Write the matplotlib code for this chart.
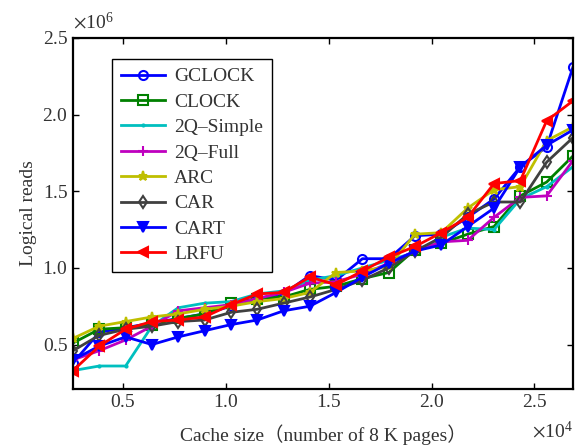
import numpy as np
import matplotlib
matplotlib.use('Agg')
import matplotlib.pyplot as plt
import matplotlib.transforms as mtransforms

plt.rcParams['font.family'] = ['Liberation Serif', 'Noto Sans CJK SC', 'DejaVu Sans']
plt.rcParams['mathtext.fontset'] = 'stix'

# cache sizes (pages)
cache_size = [2560, 3840, 5120, 6400, 7680, 8960, 10240, 11520, 12800, 14080,
              15360, 16640, 17920, 19200, 20480, 21760, 23040, 24320, 25600, 26880]

# logical reads (x 1e6)
gclock = [0.38, 0.58, 0.61, 0.64, 0.67, 0.70, 0.75, 0.80, 0.83, 0.95,
          0.92, 1.06, 1.06, 1.21, 1.22, 1.33, 1.45, 1.66, 1.79, 2.31]
clock = [0.51, 0.60, 0.61, 0.63, 0.67, 0.70, 0.77, 0.80, 0.81, 0.86,
         0.88, 0.93, 0.97, 1.12, 1.16, 1.22, 1.27, 1.47, 1.56, 1.73]
q2_simple = [0.33, 0.36, 0.36, 0.62, 0.74, 0.77, 0.78, 0.83, 0.85, 0.92,
             0.95, 1.00, 1.05, 1.10, 1.20, 1.26, 1.25, 1.45, 1.53, 1.66]
q2_full = [0.40, 0.46, 0.53, 0.62, 0.72, 0.74, 0.76, 0.80, 0.84, 0.90,
           0.91, 0.96, 1.03, 1.11, 1.17, 1.18, 1.33, 1.46, 1.47, 1.70]
arc = [0.54, 0.62, 0.65, 0.68, 0.70, 0.73, 0.75, 0.78, 0.80, 0.84,
       0.97, 0.98, 1.01, 1.22, 1.23, 1.39, 1.51, 1.53, 1.83, 1.92]
car = [0.46, 0.56, 0.60, 0.62, 0.65, 0.66, 0.71, 0.73, 0.77, 0.81,
       0.86, 0.92, 1.00, 1.11, 1.20, 1.35, 1.43, 1.43, 1.69, 1.85]
cart = [0.40, 0.49, 0.55, 0.50, 0.55, 0.59, 0.63, 0.66, 0.72, 0.75,
        0.84, 0.94, 1.03, 1.11, 1.15, 1.27, 1.39, 1.66, 1.80, 1.90]
lrfu = [0.33, 0.49, 0.60, 0.65, 0.66, 0.68, 0.76, 0.83, 0.84, 0.94,
        0.89, 0.98, 1.07, 1.14, 1.23, 1.33, 1.55, 1.57, 1.96, 2.09]

series = [
    ('GCLOCK', gclock, (0, 0, 1), 'o', 'none'),
    ('CLOCK', clock, (0, 0.5, 0), 's', 'none'),
    ('2Q\u2013Simple', q2_simple, (0, 0.75, 0.75), '.', None),
    ('2Q\u2013Full', q2_full, (0.75, 0, 0.75), '+', None),
    ('ARC', arc, (0.75, 0.75, 0), '*', None),
    ('CAR', car, (0.25, 0.25, 0.25), 'd', 'none'),
    ('CART', cart, (0, 0, 1), 'v', None),
    ('LRFU', lrfu, (1, 0, 0), '<', None),
]

text_col = '#333333'

fig = plt.figure(figsize=(5.82, 4.48), dpi=100)
ax = fig.add_axes([0.1254, 0.1317, 0.8591, 0.7835])

x = np.array(cache_size)
for name, vals, col, mk, mfc in series:
    kw = dict(color=col, marker=mk, lw=2, ms=6.5, mew=1.5, label=name)
    if mfc is not None:
        kw['mfc'] = mfc
    if mk == '.':
        kw['ms'] = 3
    ax.plot(x, np.array(vals) * 1e6, **kw)

ax.set_xlim(2560, 26880)
ax.set_ylim(0.21e6, 2.5e6)
ax.set_xticks([5000, 10000, 15000, 20000, 25000])
ax.set_yticks([0.5e6, 1.0e6, 1.5e6, 2.0e6, 2.5e6])
ax.ticklabel_format(style='sci', scilimits=(0, 0), useMathText=True)
ax.tick_params(direction='in', top=True, right=True, labelsize=14, length=4,
               width=1, labelcolor=text_col)
ax.xaxis.get_offset_text().set_fontsize(14)
ax.yaxis.get_offset_text().set_fontsize(14)
ax.xaxis.get_offset_text().set_color(text_col)
ax.yaxis.get_offset_text().set_color(text_col)
# nudge the offset texts a little, like the original
yoff = ax.yaxis.get_offset_text()
yoff.set_transform(yoff.get_transform() + mtransforms.ScaledTranslation(0, 4 / 72, fig.dpi_scale_trans))
xoff = ax.xaxis.get_offset_text()
xoff.set_transform(xoff.get_transform() + mtransforms.ScaledTranslation(0, -4 / 72, fig.dpi_scale_trans))
for s in ax.spines.values():
    s.set_linewidth(1.6)

ax.set_xlabel('Cache size\uff08number of 8 K pages\uff09', fontsize=14, labelpad=10, color=text_col)
ax.set_ylabel('Logical reads', fontsize=14, color=text_col)

leg = ax.legend(loc='upper left', bbox_to_anchor=(0.078, 0.94), borderaxespad=0,
                fontsize=14, fancybox=False, edgecolor='black', framealpha=1,
                handlelength=2.3, handletextpad=0.45, labelspacing=0.4,
                borderpad=0.45)
leg.get_frame().set_linewidth(1)
for t in leg.get_texts():
    t.set_color(text_col)

fig.savefig('out.png', dpi=100)
